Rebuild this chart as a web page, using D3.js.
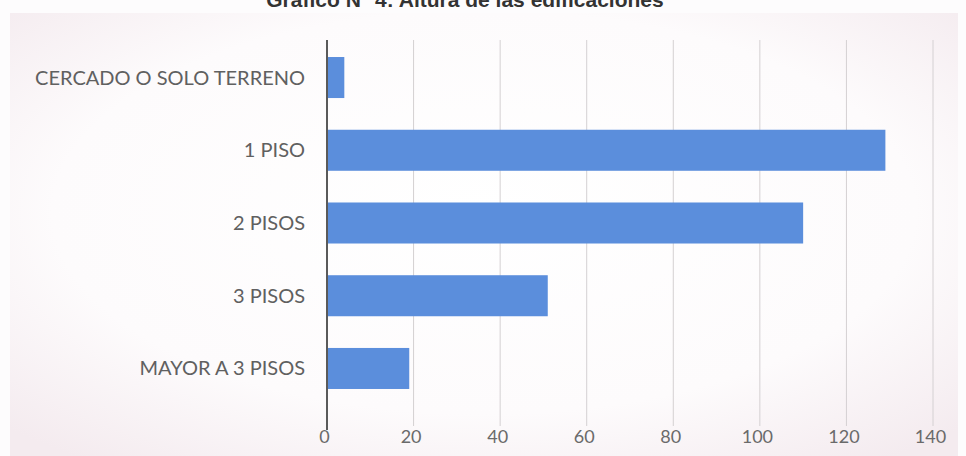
<!DOCTYPE html>
<html>
<head>
<meta charset="utf-8">
<script src="https://cdn.jsdelivr.net/npm/d3@7"></script>
<style>
  html, body { margin: 0; padding: 0; background: #fff; }
  svg { display: block; }
</style>
</head>
<body>
<svg id="chart" width="966" height="456"></svg>
<script>
// Building heights: number of buildings per category
const categories = ["CERCADO O SOLO TERRENO", "1 PISO", "2 PISOS", "3 PISOS", "MAYOR A 3 PISOS"];
const counts = [4, 129, 110, 51, 19];
const tickValues = [0, 20, 40, 60, 80, 100, 120, 140];
const title = "Gráfico N° 4: Altura de las edificaciones";

const svg = d3.select("#chart");
const W = 966, H = 456;

// soft pinkish backdrop, lighter in the middle
const defs = svg.append("defs");
const grad = defs.append("radialGradient").attr("id", "bg")
  .attr("cx", "50%").attr("cy", "45%").attr("r", "70%");
grad.append("stop").attr("offset", "0%").attr("stop-color", "#ffffff");
grad.append("stop").attr("offset", "65%").attr("stop-color", "#fdfbfc");
grad.append("stop").attr("offset", "100%").attr("stop-color", "#f4ebef");

svg.append("rect").attr("width", W).attr("height", H).attr("fill", "#fdfcfd");
svg.append("rect").attr("x", 10).attr("y", 13).attr("width", 948).attr("height", 443)
  .attr("fill", "url(#bg)");

const x = d3.scaleLinear().domain([0, 140]).range([327, 933]);
const y = d3.scaleBand().domain(categories).range([35.2, 410.8]).paddingInner(0.436).paddingOuter(0.3);

const labelFont = "Lato, 'Open Sans', sans-serif";

// vertical gridlines
svg.append("g").selectAll("line").data(tickValues.filter(d => d > 0)).join("line")
  .attr("x1", d => x(d)).attr("x2", d => x(d))
  .attr("y1", 40).attr("y2", 426)
  .attr("stroke", "#d4d0d2").attr("stroke-width", 1);

// bars
svg.append("g").selectAll("rect").data(categories).join("rect")
  .attr("x", x(0))
  .attr("y", d => y(d))
  .attr("width", (d, i) => x(counts[i]) - x(0))
  .attr("height", y.bandwidth())
  .attr("fill", "#5b8edc");

// category axis line
svg.append("line")
  .attr("x1", x(0)).attr("x2", x(0))
  .attr("y1", 40).attr("y2", 430)
  .attr("stroke", "#5a5a5a").attr("stroke-width", 2);

// category labels
svg.append("g").selectAll("text").data(categories).join("text")
  .attr("x", 305)
  .attr("y", d => y(d) + y.bandwidth() / 2)
  .attr("dy", "0.35em")
  .attr("text-anchor", "end")
  .attr("font-family", labelFont)
  .attr("font-size", 20)
  .attr("fill", "#606060")
  .text(d => d);

// value axis
const xAxis = d3.axisBottom(x).tickValues(tickValues).tickSize(0).tickPadding(0);
const gx = svg.append("g").attr("transform", "translate(-3,430)").call(xAxis);
gx.select(".domain").remove();
gx.selectAll("text")
  .attr("font-family", labelFont)
  .attr("font-size", 18)
  .attr("fill", "#6a6a6a")
  .attr("dy", "0.71em");

// title, partly cut by the top edge
svg.append("text")
  .attr("x", 465).attr("y", 7)
  .attr("text-anchor", "middle")
  .attr("font-family", "'Liberation Sans', Arial, sans-serif")
  .attr("font-weight", "bold")
  .attr("font-size", 21)
  .attr("fill", "#333")
  .text(title);
</script>
</body>
</html>
